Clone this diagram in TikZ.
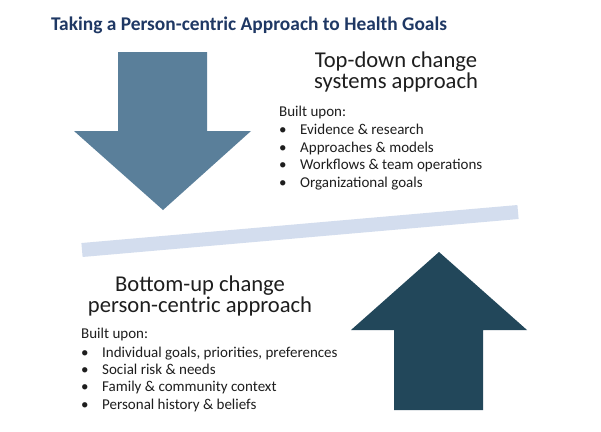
\documentclass[tikz,border=0pt]{standalone}
\usepackage{fontspec}
\setmainfont{Carlito}
\definecolor{titleblue}{HTML}{1F3864}
\definecolor{downblue}{HTML}{5A7F9A}
\definecolor{updark}{HTML}{22475A}
\definecolor{bandblue}{HTML}{D3DDEE}
\definecolor{txt}{HTML}{1E1E1E}
\begin{document}
\begin{tikzpicture}[x=1pt,y=-1pt,
  heading/.style={font=\fontsize{22.6}{22.6}\selectfont, text=txt, inner sep=0pt, anchor=base},
  body/.style={font=\fontsize{15}{15}\selectfont, text=txt, inner sep=0pt, anchor=base west}]
\useasboundingbox (0,0) rectangle (601,431);
\fill[white] (0,0) rectangle (601,431);
% title
\node[font=\bfseries\fontsize{19.4}{19.4}\selectfont, text=titleblue, inner sep=0pt, anchor=base] (title) at (249,30) {Taking a Person-centric Approach to Health Goals};
% down arrow
\fill[downblue] (118,52) -- (207,52) -- (207,131) -- (251,131) -- (163,210) -- (74,131) -- (118,131) -- cycle;
% up arrow
\fill[updark] (439,252) -- (527,330) -- (483,330) -- (483,410) -- (394,410) -- (394,330) -- (351,330) -- cycle;
% band
\coordinate (bandL) at (82,250);
\coordinate (bandR) at (518,212);
\draw[bandblue, line width=14pt] (bandL) -- (bandR);
% top-right text
\node[heading] (t1) at (396,67) {Top-down change};
\node[heading] (t2) at (396,88) {systems approach};
\node[body] (tb) at (279,116) {Built upon:};
\foreach \y/\s [count=\i] in {134/Evidence \& research, 152/Approaches \& models, 169.5/Workflows \& team operations, 187/Organizational goals}{
  \node[body] (tbul\i) at (279,\y) {•};
  \node[body] (titem\i) at (300,\y) {\s};
}
% bottom-left text
\node[heading] (b1) at (200,291) {Bottom-up change};
\node[heading] (b2) at (200,312) {person-centric approach};
\node[body] (bb) at (81,338) {Built upon:};
\foreach \y/\s [count=\i] in {357/{Individual goals, priorities, preferences}, 374/Social risk \& needs, 391.5/Family \& community context, 409/Personal history \& beliefs}{
  \node[body] (bbul\i) at (81,\y) {•};
  \node[body] (bitem\i) at (102,\y) {\s};
}
\end{tikzpicture}
\end{document}
